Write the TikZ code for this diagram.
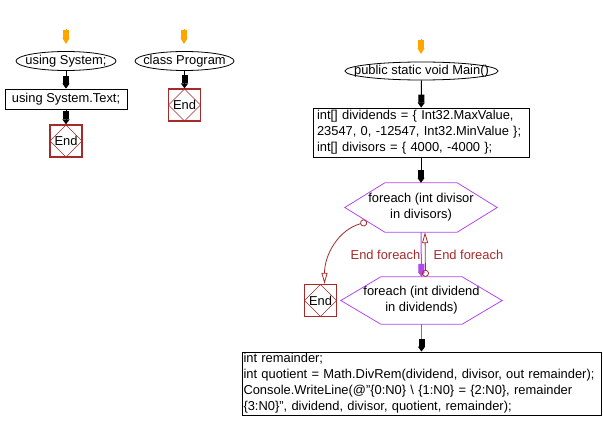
\documentclass[tikz,border=0pt]{standalone}
\usepackage{fontspec}
\setmainfont{Liberation Sans}
\usetikzlibrary{shapes,calc,arrows.meta}
\definecolor{startorange}{RGB}{255,165,0}
\definecolor{endred}{RGB}{165,42,42}
\definecolor{looppurple}{RGB}{178,72,240}

\begin{document}
\begin{tikzpicture}[x=1pt,y=-1pt,
	every node/.style={font=\fontsize{12.9}{16}\selectfont,inner sep=0pt},
	startnode/.style={draw,ellipse,line width=.8pt,minimum height=19pt},
	stepbox/.style={draw,rectangle,line width=.8pt,align=left},
	endbox/.style={draw=endred,line width=1.2pt,minimum size=32pt,
		path picture={\draw[endred,line width=.7pt] (path picture bounding box.north)--(path picture bounding box.east)--(path picture bounding box.south)--(path picture bounding box.west)--cycle;}},
	loopbox/.style={minimum width=152pt,minimum height=49pt,align=center},
	flow/.style={line width=1pt,-{Rectangle[length=8pt,width=6pt]Triangle[length=5pt,width=7pt]}},
	startflow/.style={startorange,line width=1pt,-{Rectangle[length=8pt,width=6pt]Triangle[length=6pt,width=7pt]}},
	back/.style={endred,line width=.8pt,{Circle[open,length=7pt]}-{Triangle[open,length=11pt,width=6pt]}}]
	\newcommand{\hexbox}[1]{\draw[looppurple,line width=.8pt] (#1.west)--([xshift=40pt]#1.north west)--([xshift=-40pt]#1.north east)--(#1.east)--([xshift=-40pt]#1.south east)--([xshift=40pt]#1.south west)--cycle;}%
	
	\useasboundingbox (0,0) rectangle (603,428);
	
	% using directives
	\coordinate (usein) at (66,29);
	\coordinate (useine) at (66,44);
	\node[startnode,minimum width=100pt] (usesys) at (66,61) {\makebox[0pt]{using System;}};
	\node[stepbox,minimum width=122pt,minimum height=20pt] (usetext) at (66,99) {using System.Text;};
	\node[endbox] (end1) at (66,141) {End};
	\draw[startflow] (usein)--(useine);
	\draw[flow] (usesys)--(usetext);
	\draw[flow] (usetext)--(end1);
	
	% class
	\coordinate (progin) at (184,29);
	\coordinate (progine) at (184,44);
	\node[startnode,minimum width=99pt] (prog) at (184.5,61) {\makebox[0pt]{class Program}};
	\node[endbox] (end2) at (184.5,105) {End};
	\draw[startflow] (progin)--(progine);
	\draw[flow] (prog)--(end2);
	
	% Main
	\coordinate (mainin) at (421,39);
	\coordinate (maine) at (421,54);
	\node[startnode,minimum width=153pt,minimum height=18pt] (main) at (421.5,71) {\makebox[0pt]{public static void Main()}};
	\node[stepbox,inner xsep=4pt,text width=208pt,minimum height=49pt] (init) at (421,132.5) {int[] dividends = \{ Int32.MaxValue,\\23547, 0, -12547, Int32.MinValue \};\\int[] divisors = \{ 4000, -4000 \};};
	\node[loopbox] (outer) at (421,207.5) {foreach (int divisor\\in divisors)};
	\hexbox{outer}
	\node[loopbox,minimum width=161pt,minimum height=47pt] (inner) at (421.5,300.5) {foreach (int dividend\\in dividends)};
	\hexbox{inner}
	\node[endbox] (end3) at (320.5,300.5) {End};
	\node[stepbox,inner xsep=1.5pt,text width=356pt,minimum height=63pt] (body) at (421.5,383.5) {int remainder;\\\mbox{int quotient = Math.DivRem(dividend, divisor, out remainder);}\\Console.WriteLine(@"\{0:N0\} \textbackslash{} \{1:N0\} = \{2:N0\}, remainder\\\{3:N0\}", dividend, divisor, quotient, remainder);};
	
	\draw[startflow] (mainin)--(maine);
	\draw[flow] (main)--(init);
	\draw[flow] (init)--(outer.north);
	\draw[flow,looppurple] (outer.south)--(inner.north) node[pos=.5,left=.5pt,text=endred]{End foreach};
	\draw[back] ([xshift=4pt]inner.north)--([xshift=4pt]outer.south) node[pos=.5,right=8pt,text=endred]{End foreach};
	\coordinate (exit) at (367,222);
	\draw[back] (exit) to[out=195,in=90] ([xshift=4pt]end3.north);
	\draw[looppurple,line width=1pt,-{Rectangle[length=8pt,width=6pt,color=black,fill=black]Triangle[length=5pt,width=7pt,color=black,fill=black]}] (inner.south)--(body);
\end{tikzpicture}
\end{document}
